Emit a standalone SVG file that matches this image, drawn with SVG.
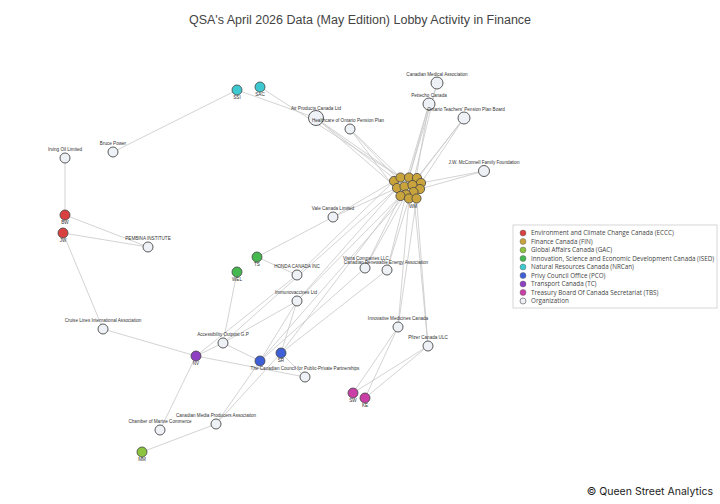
<svg xmlns="http://www.w3.org/2000/svg" width="720" height="504" viewBox="0 0 720 504">
<style>
.e{stroke:#c8c8c8;stroke-width:0.8;fill:none}
.org{fill:#eef2f7;stroke:#5a5a5a;stroke-width:1}
.dep{stroke:#444;stroke-width:0.8}
.fin{fill:#c9a43d;stroke:#444;stroke-width:0.8}
.lb{font-family:"Liberation Sans",Arial,sans-serif;font-size:4.6px;fill:#333;text-anchor:middle}
.lg{font-family:"Open Sans","DejaVu Sans",sans-serif;font-size:6.3px;fill:#444}
.title{font-family:"Liberation Sans",Arial,sans-serif;font-size:12.5px;fill:#444;text-anchor:middle}
.ft{font-family:"Inter","Liberation Sans",sans-serif;font-size:10.5px;fill:#222;text-anchor:end}
</style>
<rect width="720" height="504" fill="#ffffff"/>
<text class="title" x="360" y="24">QSA's April 2026 Data (May Edition) Lobby Activity in Finance</text>
<g id="connectors">
<line class="e" x1="316" y1="118" x2="400.5" y2="177.5"/>
<line class="e" x1="316" y1="118" x2="397" y2="188"/>
<line class="e" x1="316" y1="118" x2="404.5" y2="186.5"/>
<line class="e" x1="237" y1="90" x2="316" y2="118"/>
<line class="e" x1="260" y1="87" x2="400.5" y2="177.5"/>
<line class="e" x1="350" y1="129" x2="400.5" y2="177.5"/>
<line class="e" x1="350" y1="129" x2="404.5" y2="186.5"/>
<line class="e" x1="350" y1="129" x2="400.5" y2="196"/>
<line class="e" x1="437" y1="83" x2="409" y2="177.5"/>
<line class="e" x1="437" y1="83" x2="412.5" y2="185"/>
<line class="e" x1="429" y1="104" x2="409" y2="177.5"/>
<line class="e" x1="429" y1="104" x2="404.5" y2="186.5"/>
<line class="e" x1="429" y1="104" x2="413.5" y2="192"/>
<line class="e" x1="464" y1="118" x2="417" y2="178"/>
<line class="e" x1="464" y1="118" x2="421" y2="183"/>
<line class="e" x1="464" y1="118" x2="412.5" y2="185"/>
<line class="e" x1="484" y1="171" x2="421" y2="183"/>
<line class="e" x1="484" y1="171" x2="420" y2="189"/>
<line class="e" x1="333" y1="217" x2="397" y2="188"/>
<line class="e" x1="333" y1="217" x2="394" y2="181"/>
<line class="e" x1="365" y1="268" x2="406" y2="194.5"/>
<line class="e" x1="365" y1="268" x2="400.5" y2="196"/>
<line class="e" x1="387" y1="270" x2="409" y2="198.5"/>
<line class="e" x1="387" y1="270" x2="406" y2="194.5"/>
<line class="e" x1="398" y1="327" x2="409" y2="198.5"/>
<line class="e" x1="398" y1="327" x2="416.5" y2="198.5"/>
<line class="e" x1="428" y1="346" x2="416.5" y2="198.5"/>
<line class="e" x1="428" y1="346" x2="413.5" y2="192"/>
<line class="e" x1="297" y1="301" x2="400.5" y2="196"/>
<line class="e" x1="297" y1="301" x2="397" y2="188"/>
<line class="e" x1="223" y1="343" x2="397" y2="188"/>
<line class="e" x1="297" y1="275" x2="394" y2="181"/>
<line class="e" x1="281" y1="353" x2="400.5" y2="196"/>
<line class="e" x1="260" y1="361" x2="406" y2="194.5"/>
<line class="e" x1="237" y1="90" x2="113" y2="152"/>
<line class="e" x1="65" y1="158" x2="65" y2="215"/>
<line class="e" x1="65" y1="215" x2="148" y2="247"/>
<line class="e" x1="63" y1="233" x2="148" y2="247"/>
<line class="e" x1="63" y1="233" x2="103" y2="329"/>
<line class="e" x1="103" y1="329" x2="196" y2="356"/>
<line class="e" x1="257" y1="257" x2="333" y2="217"/>
<line class="e" x1="257" y1="257" x2="297" y2="275"/>
<line class="e" x1="237" y1="272" x2="223" y2="343"/>
<line class="e" x1="160" y1="430" x2="196" y2="356"/>
<line class="e" x1="196" y1="356" x2="223" y2="343"/>
<line class="e" x1="196" y1="356" x2="305" y2="377"/>
<line class="e" x1="196" y1="356" x2="297" y2="275"/>
<line class="e" x1="223" y1="343" x2="260" y2="361"/>
<line class="e" x1="223" y1="343" x2="297" y2="301"/>
<line class="e" x1="297" y1="301" x2="281" y2="353"/>
<line class="e" x1="297" y1="301" x2="260" y2="361"/>
<line class="e" x1="365" y1="268" x2="260" y2="361"/>
<line class="e" x1="387" y1="270" x2="281" y2="353"/>
<line class="e" x1="281" y1="353" x2="305" y2="377"/>
<line class="e" x1="216" y1="424" x2="142" y2="452"/>
<line class="e" x1="216" y1="424" x2="260" y2="361"/>
<line class="e" x1="216" y1="424" x2="281" y2="353"/>
<line class="e" x1="398" y1="327" x2="353" y2="393"/>
<line class="e" x1="398" y1="327" x2="365" y2="398"/>
<line class="e" x1="428" y1="346" x2="353" y2="393"/>
<line class="e" x1="428" y1="346" x2="365" y2="398"/>
</g>
<g id="n-cma"><circle class="org" cx="437" cy="83" r="6"/><text class="lb" x="437" y="76">Canadian Medical Association</text></g>
<g id="n-pettecho"><circle class="org" cx="429" cy="104" r="6"/><text class="lb" x="429" y="97">Pettecho Canada</text></g>
<g id="n-otppb"><circle class="org" cx="464" cy="118" r="6"/><text class="lb" x="466" y="111">Ontario Teachers' Pension Plan Board</text></g>
<g id="n-air"><circle class="org" cx="316" cy="118" r="7.5"/><text class="lb" x="316" y="110">Air Products Canada Ltd</text></g>
<g id="n-hoopp"><circle class="org" cx="350" cy="129" r="5"/><text class="lb" x="348" y="122">Healthcare of Ontario Pension Plan</text></g>
<g id="n-jwm"><circle class="org" cx="484" cy="171" r="5.5"/><text class="lb" x="484" y="163.5">J.W. McConnell Family Foundation</text></g>
<g id="n-bruce"><circle class="org" cx="113" cy="152" r="5"/><text class="lb" x="113" y="145">Bruce Power</text></g>
<g id="n-irving"><circle class="org" cx="65" cy="158" r="5"/><text class="lb" x="65" y="151">Irving Oil Limited</text></g>
<g id="n-pembina"><circle class="org" cx="148" cy="247" r="5"/><text class="lb" x="148" y="240">PEMBINA INSTITUTE</text></g>
<g id="n-vale"><circle class="org" cx="333" cy="217" r="5"/><text class="lb" x="333" y="210">Vale Canada Limited</text></g>
<g id="n-honda"><circle class="org" cx="297" cy="275" r="5"/><text class="lb" x="297" y="268">HONDA CANADA INC</text></g>
<g id="n-vistra"><circle class="org" cx="365" cy="268" r="5"/><text class="lb" x="366" y="260">Vistra Companies LLC</text></g>
<g id="n-canrea"><circle class="org" cx="387" cy="270" r="5"/><text class="lb" x="386" y="264">Canadian Renewable Energy Association</text></g>
<g id="n-innov"><circle class="org" cx="398" cy="327" r="5"/><text class="lb" x="398" y="320">Innovative Medicines Canada</text></g>
<g id="n-pfizer"><circle class="org" cx="428" cy="346" r="5"/><text class="lb" x="428" y="339">Pfizer Canada ULC</text></g>
<g id="n-immuno"><circle class="org" cx="297" cy="301" r="5"/><text class="lb" x="296" y="294">Immunovaccines Ltd</text></g>
<g id="n-access"><circle class="org" cx="223" cy="343" r="5"/><text class="lb" x="223" y="336">Accessibility Outpost G.P</text></g>
<g id="n-cruise"><circle class="org" cx="103" cy="329" r="5"/><text class="lb" x="103" y="322">Cruise Lines International Association</text></g>
<g id="n-council"><circle class="org" cx="305" cy="377" r="5"/><text class="lb" x="305" y="370">The Canadian Council for Public-Private Partnerships</text></g>
<g id="n-cmpa"><circle class="org" cx="216" cy="424" r="5"/><text class="lb" x="216" y="417">Canadian Media Producers Association</text></g>
<g id="n-chamber"><circle class="org" cx="160" cy="430" r="5"/><text class="lb" x="160" y="423">Chamber of Marine Commerce</text></g>
<g id="n-ssi"><circle class="dep" fill="#3ec8cf" cx="237" cy="90" r="5"/><text class="lb" x="237" y="99">SSI</text></g>
<g id="n-sac"><circle class="dep" fill="#3ec8cf" cx="260" cy="87" r="5"/><text class="lb" x="260" y="96">SAC</text></g>
<g id="n-bw"><circle class="dep" fill="#d94141" cx="65" cy="215" r="5"/><text class="lb" x="65" y="224">BW</text></g>
<g id="n-jw"><circle class="dep" fill="#d94141" cx="63" cy="233" r="5"/><text class="lb" x="63" y="242">JW</text></g>
<g id="n-ts"><circle class="dep" fill="#45b850" cx="257" cy="257" r="5"/><text class="lb" x="257" y="266">TS</text></g>
<g id="n-wel"><circle class="dep" fill="#45b850" cx="237" cy="272" r="5"/><text class="lb" x="237" y="281">WEL</text></g>
<g id="n-mm"><circle class="dep" fill="#8cc43f" cx="142" cy="452" r="5"/><text class="lb" x="142" y="461">MM</text></g>
<g id="n-pco1"><circle class="dep" fill="#3e5fd6" cx="260" cy="361" r="5"/></g>
<g id="n-sr"><circle class="dep" fill="#3e5fd6" cx="281" cy="353" r="5"/><text class="lb" x="281" y="362">SR</text></g>
<g id="n-nv"><circle class="dep" fill="#8e3fc2" cx="196" cy="356" r="5"/><text class="lb" x="196" y="365">NV</text></g>
<g id="n-sw"><circle class="dep" fill="#c93fa6" cx="353" cy="393" r="5"/><text class="lb" x="353" y="402">SW</text></g>
<g id="n-ke"><circle class="dep" fill="#c93fa6" cx="365" cy="398" r="5"/><text class="lb" x="365" y="407">KE</text></g>
<g id="n-fin">
<circle class="fin" cx="394" cy="181" r="4.6"/>
<circle class="fin" cx="400.5" cy="177.5" r="4.6"/>
<circle class="fin" cx="409" cy="177.5" r="4.6"/>
<circle class="fin" cx="417" cy="178" r="4.6"/>
<circle class="fin" cx="421" cy="183" r="4.6"/>
<circle class="fin" cx="397" cy="188" r="4.6"/>
<circle class="fin" cx="404.5" cy="186.5" r="4.6"/>
<circle class="fin" cx="412.5" cy="185" r="4.6"/>
<circle class="fin" cx="420" cy="189" r="4.6"/>
<circle class="fin" cx="413.5" cy="192" r="4.6"/>
<circle class="fin" cx="406" cy="194.5" r="4.6"/>
<circle class="fin" cx="400.5" cy="196" r="4.6"/>
<circle class="fin" cx="409" cy="198.5" r="4.6"/>
<circle class="fin" cx="416.5" cy="198.5" r="4.6"/>
<text class="lb" x="413" y="208">WM</text>
</g>
<g id="legend">
<rect x="513" y="225" width="204" height="83" fill="#ffffff" stroke="#cccccc" stroke-width="0.8"/>
<circle cx="523" cy="233" r="3" fill="#d94141" stroke="#666" stroke-width="0.5"/><text class="lg" x="531" y="235.3">Environment and Climate Change Canada (ECCC)</text>
<circle cx="523" cy="241.5" r="3" fill="#c9a43d" stroke="#666" stroke-width="0.5"/><text class="lg" x="531" y="243.8">Finance Canada (FIN)</text>
<circle cx="523" cy="250" r="3" fill="#8cc43f" stroke="#666" stroke-width="0.5"/><text class="lg" x="531" y="252.3">Global Affairs Canada (GAC)</text>
<circle cx="523" cy="258.5" r="3" fill="#45b850" stroke="#666" stroke-width="0.5"/><text class="lg" x="531" y="260.8">Innovation, Science and Economic Development Canada (ISED)</text>
<circle cx="523" cy="267" r="3" fill="#3ec8cf" stroke="#666" stroke-width="0.5"/><text class="lg" x="531" y="269.3">Natural Resources Canada (NRCan)</text>
<circle cx="523" cy="275.5" r="3" fill="#3e5fd6" stroke="#666" stroke-width="0.5"/><text class="lg" x="531" y="277.8">Privy Council Office (PCO)</text>
<circle cx="523" cy="284" r="3" fill="#8e3fc2" stroke="#666" stroke-width="0.5"/><text class="lg" x="531" y="286.3">Transport Canada (TC)</text>
<circle cx="523" cy="292.5" r="3" fill="#c93fa6" stroke="#666" stroke-width="0.5"/><text class="lg" x="531" y="294.8">Treasury Board Of Canada Secretariat (TBS)</text>
<circle cx="523" cy="301" r="3" fill="#eef2f7" stroke="#666" stroke-width="0.7"/><text class="lg" x="531" y="303.3">Organization</text>
</g>
<text class="ft" x="713" y="495">© Queen Street Analytics</text>
</svg>
